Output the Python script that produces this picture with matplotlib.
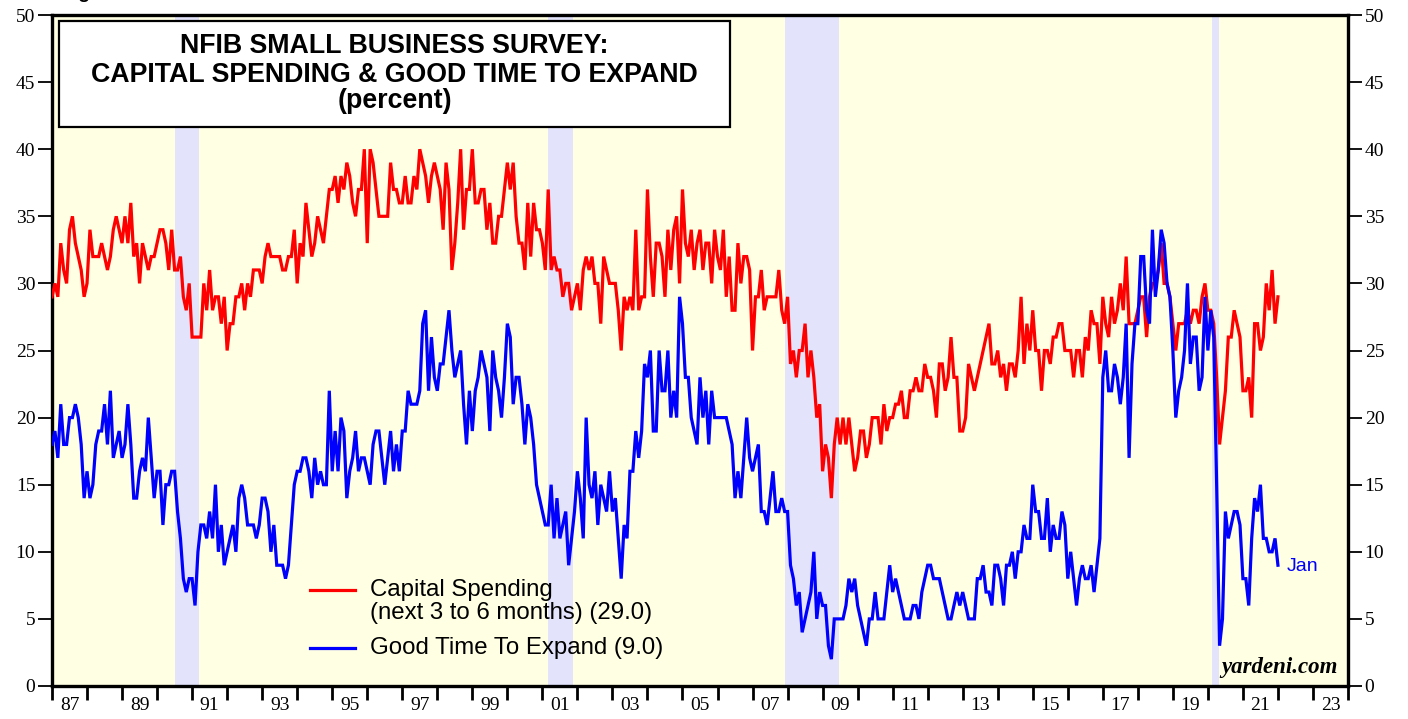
#!/usr/bin/env python3

"""NFIB small business survey: capital spending plans & good time to expand."""

import numpy as np
import matplotlib
matplotlib.use("Agg")
import matplotlib.pyplot as plt
from matplotlib.lines import Line2D
from matplotlib.patches import Rectangle

# monthly readings, Jan 1987 .. Jan 2022 (percent)
START_YEAR = 1987

capital_spending = [
    29, 30, 29, 33, 31, 30, 34, 35, 33, 32, 31, 29,  # 1987
    30, 34, 32, 32, 32, 33, 32, 31, 32, 34, 35, 34,  # 1988
    33, 35, 33, 36, 32, 33, 30, 33, 32, 31, 32, 32,  # 1989
    33, 34, 34, 33, 31, 34, 31, 31, 32, 29, 28, 30,  # 1990
    26, 26, 26, 26, 30, 28, 31, 28, 29, 29, 27, 29,  # 1991
    25, 27, 27, 29, 29, 30, 28, 30, 29, 31, 31, 31,  # 1992
    30, 32, 33, 32, 32, 32, 32, 31, 31, 32, 32, 34,  # 1993
    30, 33, 32, 36, 34, 32, 33, 35, 34, 33, 35, 37,  # 1994
    37, 38, 36, 38, 37, 39, 38, 36, 35, 37, 37, 40,  # 1995
    33, 40, 39, 37, 35, 35, 35, 35, 39, 37, 37, 36,  # 1996
    36, 38, 36, 36, 38, 37, 40, 39, 38, 36, 38, 39,  # 1997
    38, 37, 34, 39, 37, 31, 33, 36, 40, 34, 37, 37,  # 1998
    40, 36, 36, 37, 37, 34, 36, 33, 33, 35, 35, 37,  # 1999
    39, 37, 39, 35, 33, 33, 31, 36, 32, 36, 34, 34,  # 2000
    33, 31, 37, 31, 32, 31, 31, 29, 30, 30, 28, 29,  # 2001
    30, 28, 31, 32, 31, 32, 30, 30, 27, 32, 31, 30,  # 2002
    30, 30, 28, 25, 29, 28, 29, 28, 34, 28, 29, 29,  # 2003
    37, 32, 29, 33, 33, 32, 29, 34, 31, 34, 35, 30,  # 2004
    37, 33, 32, 34, 31, 33, 34, 31, 33, 33, 30, 34,  # 2005
    32, 31, 34, 29, 32, 28, 28, 33, 30, 32, 32, 31,  # 2006
    25, 29, 29, 31, 28, 29, 29, 29, 29, 31, 28, 27,  # 2007
    29, 24, 25, 23, 25, 25, 27, 23, 25, 23, 20, 21,  # 2008
    16, 18, 17, 14, 18, 20, 18, 20, 18, 20, 18, 16,  # 2009
    17, 19, 19, 17, 18, 20, 20, 20, 18, 21, 19, 20,  # 2010
    20, 21, 21, 22, 20, 20, 22, 22, 23, 22, 22, 24,  # 2011
    23, 23, 22, 20, 24, 24, 22, 23, 26, 23, 23, 19,  # 2012
    19, 20, 24, 23, 22, 23, 24, 25, 26, 27, 24, 24,  # 2013
    25, 23, 24, 22, 24, 24, 23, 25, 29, 24, 27, 25,  # 2014
    28, 25, 25, 22, 25, 25, 24, 26, 26, 27, 27, 25,  # 2015
    25, 25, 23, 25, 25, 23, 26, 25, 28, 27, 27, 24,  # 2016
    29, 27, 26, 29, 27, 28, 30, 28, 32, 27, 27, 27,  # 2017
    28, 29, 29, 26, 29, 30, 30, 31, 33, 30, 30, 29,  # 2018
    27, 25, 27, 27, 27, 28, 27, 28, 28, 27, 29, 30,  # 2019
    28, 28, 27, 23, 18, 20, 22, 26, 26, 28, 27, 26,  # 2020
    22, 22, 23, 20, 27, 27, 25, 26, 30, 28, 31, 27,  # 2021
    29,                                              # 2022
]

good_time_expand = [
    18, 19, 17, 21, 18, 18, 20, 20, 21, 20, 18, 14,  # 1987
    16, 14, 15, 18, 19, 19, 21, 18, 22, 17, 18, 19,  # 1988
    17, 18, 21, 18, 14, 14, 16, 17, 16, 20, 17, 14,  # 1989
    16, 16, 12, 15, 15, 16, 16, 13, 11, 8, 7, 8,     # 1990
    8, 6, 10, 12, 12, 11, 13, 11, 15, 10, 12, 9,     # 1991
    10, 11, 12, 10, 14, 15, 14, 12, 12, 12, 11, 12,  # 1992
    14, 14, 13, 10, 12, 9, 9, 9, 8, 9, 12, 15,       # 1993
    16, 16, 17, 17, 16, 14, 17, 15, 16, 15, 15, 22,  # 1994
    16, 19, 16, 20, 19, 14, 16, 17, 19, 16, 17, 17,  # 1995
    16, 15, 18, 19, 19, 17, 15, 17, 19, 16, 18, 16,  # 1996
    19, 19, 22, 21, 21, 21, 22, 27, 28, 22, 26, 23,  # 1997
    22, 24, 24, 26, 28, 25, 23, 24, 25, 21, 18, 22,  # 1998
    19, 22, 23, 25, 24, 23, 19, 25, 23, 22, 20, 23,  # 1999
    27, 26, 21, 23, 23, 21, 18, 21, 20, 18, 15, 14,  # 2000
    13, 12, 12, 15, 11, 14, 11, 12, 13, 9, 11, 13,   # 2001
    16, 14, 11, 20, 15, 14, 16, 12, 15, 14, 13, 16,  # 2002
    13, 14, 11, 8, 12, 11, 16, 16, 19, 17, 19, 24,   # 2003
    23, 25, 19, 19, 25, 22, 22, 25, 20, 22, 20, 29,  # 2004
    27, 23, 23, 20, 19, 18, 23, 20, 22, 18, 22, 20,  # 2005
    20, 20, 20, 20, 19, 18, 14, 16, 14, 17, 20, 17,  # 2006
    16, 17, 18, 13, 13, 12, 14, 16, 13, 13, 14, 13,  # 2007
    13, 9, 8, 6, 7, 4, 5, 6, 7, 10, 5, 7,            # 2008
    6, 6, 3, 2, 5, 5, 5, 5, 6, 8, 7, 8,              # 2009
    6, 5, 4, 3, 5, 5, 7, 5, 5, 5, 7, 9,              # 2010
    7, 8, 7, 6, 5, 5, 5, 6, 6, 5, 7, 8,              # 2011
    9, 9, 8, 8, 8, 7, 6, 5, 5, 6, 7, 6,              # 2012
    7, 6, 5, 5, 5, 8, 8, 9, 7, 7, 6, 9,              # 2013
    9, 8, 6, 9, 9, 10, 8, 10, 10, 12, 11, 11,        # 2014
    15, 13, 13, 11, 11, 14, 10, 12, 11, 11, 13, 12,  # 2015
    8, 10, 8, 6, 8, 9, 8, 8, 9, 7, 9, 11,            # 2016
    23, 25, 22, 22, 24, 23, 21, 23, 27, 17, 24, 27,  # 2017
    27, 32, 32, 28, 27, 34, 29, 31, 34, 33, 30, 29,  # 2018
    25, 20, 22, 23, 25, 30, 24, 26, 26, 22, 23, 29,  # 2019
    25, 28, 26, 15, 3, 5, 13, 11, 12, 13, 13, 12,    # 2020
    8, 8, 6, 11, 14, 13, 15, 11, 11, 10, 10, 11,     # 2021
    9,                                               # 2022
]

# recessions (decimal years)
recessions = [(1990.50, 1991.21), (2001.17, 2001.88), (2007.92, 2009.46), (2020.12, 2020.33)]

year_ticks = list(range(1987, 2025))
label_years = list(range(1987, 2024, 2))
year_labels = [f"{y % 100:02d}" for y in label_years]
y_ticks = list(range(0, 51, 5))

title_lines = ["NFIB SMALL BUSINESS SURVEY:", "CAPITAL SPENDING & GOOD TIME TO EXPAND", "(percent)"]
legend_labels = ["Capital Spending", "(next 3 to 6 months) (29.0)", "Good Time To Expand (9.0)"]

RED = "#ff0000"
BLUE = "#0000ff"
BG = "#ffffe3"
REC = "#e3e3fb"
SANS = "Liberation Sans"
SERIF = "Liberation Serif"


def main():
    W, H = 1408, 719
    fig = plt.figure(figsize=(W / 100, H / 100), dpi=100)
    left, right, top, bottom = 52, 1348, 15, 686
    ax = fig.add_axes([left / W, 1 - bottom / H, (right - left) / W, (bottom - top) / H])
    ax.set_facecolor(BG)

    for a, b in recessions:
        ax.axvspan(a, b, color=REC, lw=0, zorder=0)

    dates = START_YEAR + np.arange(len(capital_spending)) / 12
    ax.plot(dates, capital_spending, color=RED, lw=2.3, zorder=3, solid_joinstyle="miter")
    ax.plot(dates, good_time_expand, color=BLUE, lw=2.3, zorder=3, solid_joinstyle="miter")

    ax.set_xlim(1987, 2024)
    ax.set_ylim(0, 50)

    # x axis: year ticks, labels centred in odd years
    ax.set_xticks(year_ticks)
    ax.set_xticklabels([])
    ax.set_xticks([y + 0.5 for y in label_years], minor=True)
    ax.set_xticklabels(year_labels, minor=True, fontfamily=SERIF, fontsize=14)
    ax.tick_params(axis="x", which="major", direction="out", length=10, width=2)
    ax.tick_params(axis="x", which="minor", length=0, pad=8)

    # y axis on both sides
    ax.set_yticks(y_ticks)
    ax.set_yticklabels([str(v) for v in y_ticks], fontfamily=SERIF, fontsize=14)
    ax.tick_params(axis="y", which="both", direction="out", length=10, width=1.3,
                   left=True, right=True, labelleft=True, labelright=True, pad=2)

    for s in ax.spines.values():
        s.set_linewidth(2.4)

    # title box
    tx = lambda px: (px - left) / (right - left)
    ty = lambda py: (bottom - py) / (bottom - top)
    ax.add_patch(Rectangle((tx(59), ty(127)), tx(730) - tx(59), ty(21) - ty(127),
                           transform=ax.transAxes, facecolor="white", edgecolor="black",
                           lw=1.6, zorder=5))
    for line, py in zip(title_lines, [46, 75, 101]):
        ax.text(tx(394.5), ty(py), line, transform=ax.transAxes, ha="center", va="center",
                fontfamily=SANS, fontweight="bold", fontsize=19.3, zorder=6)

    # legend
    for color, py in [(RED, 590), (BLUE, 648)]:
        ax.add_line(Line2D([tx(310), tx(355)], [ty(py), ty(py)], transform=ax.transAxes,
                           color=color, lw=2.3, zorder=6))
    for label, py in zip(legend_labels, [590, 613, 648]):
        ax.text(tx(370), ty(py), label, transform=ax.transAxes, ha="left", va="center",
                fontfamily=SANS, fontsize=17.3, zorder=6)

    # last month marker
    ax.annotate("Jan", (dates[-1], good_time_expand[-1]), xytext=(6, -1),
                textcoords="offset points", ha="left", va="center", color=BLUE,
                fontfamily=SANS, fontsize=14, zorder=6)

    ax.text(0.992, 0.012, "yardeni.com", transform=ax.transAxes, ha="right", va="bottom",
            fontfamily=SERIF, fontweight="bold", fontstyle="italic", fontsize=16.5, zorder=6)

    fig.text(62 / W, 1 + 2 / H, "Figure", fontfamily=SANS, fontweight="bold",
             fontsize=14, va="baseline")

    fig.savefig("out.png", dpi=100, facecolor="white")
    plt.close(fig)


if __name__ == "__main__":
    main()
